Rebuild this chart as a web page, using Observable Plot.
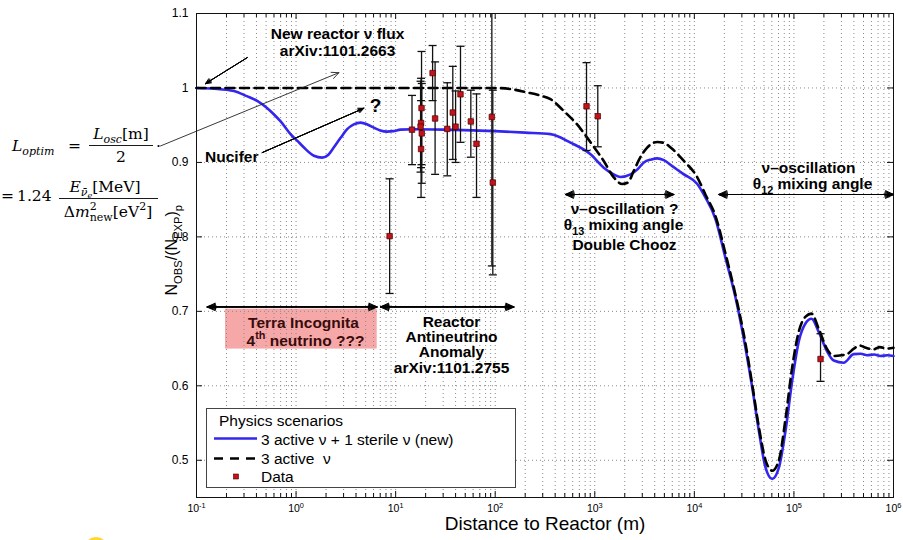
<!DOCTYPE html>
<html><head><meta charset="utf-8">
<script src="https://cdn.jsdelivr.net/npm/d3@7"></script>
<script src="https://cdn.jsdelivr.net/npm/@observablehq/plot@0.6"></script>
<style>
html,body{margin:0;padding:0;background:#fff;}
#chart{position:relative;width:903px;height:540px;overflow:hidden;}
#chart svg{display:block;}
</style></head><body><div id="chart"></div>
<script>
// ---------------- data ----------------
const sterileDist = [0.1,0.15,0.237,0.32,0.407,0.5,0.597,0.7,0.879,1.03,1.2,1.51,1.83,2.1,2.39,2.8,3.26,3.8,4.44,5.2,6.04,7.0,8.22,9.5,11.2,15,30,60,100,200,359,570,906,1230,1550,1810,2290,2700,3110,3700,4240,4940,6000,7850,10700,12900,16300,20500,25900,32600,38100,44400,51900,60500,70600,82400,96100,112000,131000,150000,178000,214000,251000,316000,398000,470000,543000,640000,740000,870000,1000000];
const sterileRatio = [1.0,0.999,0.996,0.989,0.9826,0.974,0.9647,0.955,0.938,0.929,0.92,0.909,0.9065,0.91,0.92,0.933,0.9446,0.951,0.9534,0.951,0.9467,0.943,0.9414,0.942,0.944,0.9445,0.944,0.943,0.942,0.94,0.938,0.9266,0.911,0.893,0.884,0.8805,0.884,0.891,0.9,0.904,0.9055,0.903,0.895,0.884,0.871,0.853,0.824,0.772,0.7185,0.651,0.598,0.54,0.49,0.4748,0.49,0.54,0.607,0.66,0.684,0.69,0.672,0.647,0.634,0.631,0.6425,0.643,0.641,0.642,0.64,0.641,0.64];
const activeDist = [0.1,1,10,100,150,209,280,359,489,665,906,1230,1550,1885,2150,2470,2900,3360,4240,5000,5770,7850,10700,12900,16300,20500,25900,32600,38100,44400,51900,60500,70600,82400,96100,112000,131000,150000,178000,214000,251000,300000,342000,400000,460000,530000,630000,730000,850000,1000000];
const activeRatio = [1,1,1,1,0.998,0.994,0.99,0.985,0.969,0.951,0.927,0.902,0.88,0.871,0.873,0.889,0.908,0.92,0.9275,0.926,0.92,0.902,0.88,0.857,0.828,0.778,0.722,0.657,0.602,0.545,0.5,0.486,0.5,0.556,0.625,0.673,0.693,0.697,0.676,0.65,0.64,0.641,0.6425,0.65,0.654,0.651,0.649,0.652,0.65,0.651];
const dataDist  = [8.7,14.6,18.2,18.0,17.8,18.3,18.0,23.5,24.9,33,37.5,40,44.8,56.9,64.9,92.5,94.6,826,1072,185000];
const dataRatio = [0.801,0.944,0.973,0.953,0.948,0.939,0.918,1.020,0.959,0.945,0.967,0.948,0.9915,0.955,0.925,0.961,0.873,0.9754,0.962,0.636];
const dataLow   = [0.724,0.897,0.897,0.893,0.887,0.872,0.853,0.983,0.884,0.882,0.904,0.900,0.927,0.907,0.853,0.761,0.749,0.916,0.921,0.606];
const dataHigh  = [0.878,0.990,1.049,1.013,1.009,1.006,0.983,1.057,1.035,1.007,1.029,0.996,1.056,0.997,0.992,1.161,0.997,1.034,1.003,0.670];
const xTickValues = [0.1,1,10,100,1000,10000,100000,1000000];
const xTickLabels = ["10^{-1}","10^{0}","10^{1}","10^{2}","10^{3}","10^{4}","10^{5}","10^{6}"];
const yTickValues = [0.5,0.6,0.7,0.8,0.9,1,1.1];
const yTickLabels = ["0.5","0.6","0.7","0.8","0.9","1","1.1"];
const xTitle = "Distance to Reactor (m)";
const yTitle = "N_{OBS}/(N_{EXP})_{p}";
const legendTitle = "Physics scenarios";
const legendLabels = ["3 active ν + 1 sterile ν (new)", "3 active\u00a0 ν", "Data"];

// ---------------- tables ----------------
const sterile = sterileDist.map((x, i) => ({x, y: sterileRatio[i]}));
const active = activeDist.map((x, i) => ({x, y: activeRatio[i]}));
const points = dataDist.map((x, i) => ({x, y: dataRatio[i], lo: dataLow[i], hi: dataHigh[i]}));
const minorTicks = xTickValues.slice(0, -1).flatMap(d => [2,3,4,5,6,7,8,9].map(k => k * d));
const gridXs = minorTicks.concat(xTickValues.slice(1, -1));
const gridYs = yTickValues.slice(0, -1);

const W = 903, H = 540, mL = 196, mR = 10, mT = 13, mB = 43;
const innerW = W - mL - mR, innerH = H - mT - mB;
const BLUE = "#3326ee";
const DASH = "9,5.5";
const capSymbol = {draw(ctx, size) { const r = Math.sqrt(size / Math.PI); ctx.moveTo(-r, 0); ctx.lineTo(r, 0); }};

// double-headed arrows: [xStart, xEnd, y]
const spans = [[0.128, 6.5, 0.706], [7.05, 154, 0.706], [508, 6220, 0.857], [17600, 1000000, 0.857]];
const halfArrows = spans.flatMap(([a, b, y]) => { const m = Math.sqrt(a * b); return [{x1: m, x2: a, y1: y, y2: y}, {x1: m, x2: b, y1: y, y2: y}]; });
const filledArrow = (data, o = {}) => [50, 36, 22, 10].map(a => Plot.arrow(data, {x1: "x1", y1: "y1", x2: "x2", y2: "y2", headAngle: a, headLength: o.len || 11, stroke: "black", strokeWidth: o.w || 1.1}));
const pointerArrows = [{x1: 0.323, y1: 1.0407, x2: 0.123, y2: 1.0058}, {x1: 0.457, y1: 0.9132, x2: 4.79, y2: 0.9727}];
const formulaArrow = [{x1: 0.0435, y1: 0.9221, x2: 2.69, y2: 1.0205}];

const bold = {fontWeight: "bold", fontSize: 15.5, fill: "black"};
const lbl = (x, y, t, o = {}) => Plot.text([t], {x: () => x, y: () => y, text: d => d, ...bold, ...o});

const chart = Plot.plot({
  width: W, height: H, marginLeft: mL, marginRight: mR, marginTop: mT, marginBottom: mB,
  style: {fontFamily: "'Liberation Sans', Arial, Helvetica, sans-serif", background: "white", overflow: "visible"},
  x: {type: "log", domain: [0.1, 1e6]},
  y: {domain: [0.45, 1.1]},
  marks: [
    Plot.rect([0], {x1: () => 0.1955, x2: () => 6.53, y1: () => 0.6493, y2: () => 0.703, fill: "#f6a8a8"}),
    Plot.ruleX(gridXs, {stroke: "#8a8a8a", strokeWidth: 1, strokeDasharray: "1,3"}),
    Plot.ruleY(gridYs, {stroke: "#8a8a8a", strokeWidth: 1, strokeDasharray: "1,3"}),
    Plot.frame({stroke: "#111", strokeWidth: 1}),
    Plot.tickX(xTickValues, {x: d => d, insetTop: innerH - 6, stroke: "#111"}),
    Plot.tickX(minorTicks, {x: d => d, insetTop: innerH - 4, stroke: "#111"}),
    Plot.tickX(xTickValues, {x: d => d, insetBottom: innerH - 6, stroke: "#111"}),
    Plot.tickX(minorTicks, {x: d => d, insetBottom: innerH - 4, stroke: "#111"}),
    Plot.tickY(yTickValues, {y: d => d, insetRight: innerW - 6, stroke: "#111"}),
    Plot.tickY(yTickValues, {y: d => d, insetLeft: innerW - 6, stroke: "#111"}),
    Plot.line(sterile, {x: "x", y: "y", stroke: BLUE, strokeWidth: 2.6, curve: "monotone-x"}),
    Plot.line(active, {x: "x", y: "y", stroke: "black", strokeWidth: 2.6, strokeDasharray: DASH, curve: "monotone-x"}),
    Plot.ruleX(points, {x: "x", y1: "lo", y2: "hi", stroke: "#111", strokeWidth: 1.3, clip: true}),
    Plot.dot(points.filter(d => d.hi <= 1.1), {x: "x", y: "hi", symbol: capSymbol, r: 4, fill: "none", stroke: "#111", strokeWidth: 1.3}),
    Plot.dot(points, {x: "x", y: "lo", symbol: capSymbol, r: 4, fill: "none", stroke: "#111", strokeWidth: 1.3}),
    Plot.dot(points, {x: "x", y: "y", symbol: "square", r: 3.1, fill: "#c4121a", stroke: "#4a0000", strokeWidth: 0.7}),
    ...filledArrow(halfArrows, {len: 12, w: 1.1}),
    ...filledArrow(pointerArrows, {len: 10, w: 0.9}),
    Plot.arrow(formulaArrow, {x1: "x1", y1: "y1", x2: "x2", y2: "y2", headAngle: 50, headLength: 13, stroke: "#222", strokeWidth: 0.9}),
    lbl(2.607, 1.0721, "New reactor ν flux"),
    lbl(2.607, 1.0497, "arXiv:1101.2663"),
    lbl(6.28, 0.9758, "?", {fontSize: 19}),
    lbl(0.226, 0.9074, "Nucifer"),
    lbl(1.187, 0.6846, "Terra Incognita", {fill: "#3a0b0b"}),
    lbl(1.244, 0.6604, "4^{th} neutrino ???", {fill: "#3a0b0b"}),
    lbl(36.4, 0.6860, "Reactor"),
    lbl(36.4, 0.6655, "Antineutrino"),
    lbl(36.4, 0.6450, "Anomaly"),
    lbl(36.4, 0.6245, "arXiv:1101.2755"),
    lbl(1989, 0.8375, "ν–oscillation ?"),
    lbl(1943, 0.8160, "θ_{13} mixing angle"),
    lbl(1989, 0.7895, "Double Chooz"),
    lbl(140000, 0.8925, "ν–oscillation"),
    lbl(153800, 0.8705, "θ_{12} mixing angle"),
    Plot.axisX({ticks: xTickValues, tickFormat: d => xTickLabels[xTickValues.indexOf(d)], tickSize: 0, tickPadding: 7, fontSize: 10.5, label: null}),
    Plot.axisY({ticks: yTickValues, tickFormat: d => yTickLabels[yTickValues.indexOf(d)], tickSize: 0, tickPadding: 8, fontSize: 12, label: null}),
    Plot.text([xTitle], {frameAnchor: "bottom", dy: 32, text: d => d, fontSize: 19}),
    Plot.text([yTitle], {frameAnchor: "left", rotate: -90, dx: -25, dy: 40, text: d => d, fontSize: 16})
  ]
});
document.getElementById("chart").appendChild(chart);

// ---------------- rich text (sub/superscripts) ----------------
const NS = "http://www.w3.org/2000/svg";
function richify(textEl, scale = 0.7) {
  const s = textEl.textContent;
  if (textEl.querySelector("tspan") || !/[_^]\{/.test(s)) return;
  const base = parseFloat(getComputedStyle(textEl).fontSize) || 12;
  while (textEl.firstChild) textEl.removeChild(textEl.firstChild);
  const re = /([_^])\{([^}]*)\}/g;
  let last = 0, cur = 0, m;
  const push = (str, mode) => {
    if (!str) return;
    const t = document.createElementNS(NS, "tspan");
    const target = mode === "_" ? base * 0.32 : mode === "^" ? -base * 0.42 : 0;
    if (target !== cur) t.setAttribute("dy", (target - cur).toFixed(2));
    cur = target;
    if (mode) t.setAttribute("font-size", (base * scale).toFixed(2));
    t.textContent = str;
    textEl.appendChild(t);
  };
  while ((m = re.exec(s))) { push(s.slice(last, m.index), null); push(m[2], m[1]); last = re.lastIndex; }
  push(s.slice(last), null);
}
chart.querySelectorAll("text").forEach(t => richify(t));

// ---------------- legend & formula (annotation layer) ----------------
const svg = d3.select(chart);
const lg = svg.append("g").attr("font-family", "'Liberation Sans', Arial, sans-serif").attr("font-size", 15.5).attr("text-anchor", "start");
lg.append("rect").attr("x", 206.5).attr("y", 408.5).attr("width", 309).attr("height", 79).attr("fill", "white").attr("stroke", "#444");
lg.append("text").attr("x", 219).attr("y", 426).attr("text-anchor", "start").text(legendTitle);
lg.append("line").attr("x1", 214).attr("x2", 257).attr("y1", 438.5).attr("y2", 438.5).attr("stroke", BLUE).attr("stroke-width", 2.6);
lg.append("text").attr("x", 261).attr("y", 445).attr("text-anchor", "start").text(legendLabels[0]);
lg.append("line").attr("x1", 214).attr("x2", 257).attr("y1", 458.5).attr("y2", 458.5).attr("stroke", "black").attr("stroke-width", 2.6).attr("stroke-dasharray", "9,7");
lg.append("text").attr("x", 261).attr("y", 464).attr("text-anchor", "start").text(legendLabels[1]);
lg.append("rect").attr("x", 233.5).attr("y", 474).attr("width", 5).attr("height", 5).attr("fill", "#c4121a").attr("stroke", "#4a0000").attr("stroke-width", 0.6);
lg.append("text").attr("x", 261).attr("y", 482).attr("text-anchor", "start").text(legendLabels[2]);

const fm = svg.append("g").attr("font-family", "'DejaVu Serif', 'Liberation Serif', serif").attr("font-size", 15.5).attr("fill", "black");
function mtext(x, y, parts, anchor = "start") {
  const t = fm.append("text").attr("x", x).attr("y", y).attr("text-anchor", anchor);
  parts.forEach(p => {
    const s = t.append("tspan").text(p.t);
    if (p.i) s.attr("font-style", "italic");
    if (p.s) s.attr("font-size", p.s);
    if (p.dy) s.attr("dy", p.dy);
    if (p.dx) s.attr("dx", p.dx);
  });
}
mtext(12, 151, [{t: "L", i: 1}, {t: "optim", i: 1, s: 11, dy: 4}]);
mtext(68, 151, [{t: "="}]);
mtext(121, 139, [{t: "L", i: 1}, {t: "osc", i: 1, s: 11, dy: 4}, {t: "[m]", dy: -4}], "middle");
fm.append("line").attr("x1", 89).attr("x2", 153).attr("y1", 145.5).attr("y2", 145.5).attr("stroke", "black").attr("stroke-width", 0.9);
mtext(121, 162, [{t: "2"}], "middle");
mtext(156, 147, [{t: "."}]);
mtext(1, 201, [{t: "=\u20091.24"}]);
mtext(105, 192, [{t: "E", i: 1}, {t: "ν\u0304", i: 1, s: 11, dy: 4}, {t: "e", i: 1, s: 8, dy: 2}, {t: "[MeV]", dy: -6}], "middle");
fm.append("line").attr("x1", 59).attr("x2", 158).attr("y1", 198.5).attr("y2", 198.5).attr("stroke", "black").attr("stroke-width", 0.9);
mtext(108, 217, [{t: "Δ"}, {t: "m", i: 1}, {t: "2", s: 11, dy: -7}, {t: "new", s: 11, dx: -7, dy: 11}, {t: "[eV", dy: -4}, {t: "2", s: 11, dy: -7}, {t: "]", dy: 7}], "middle");

// small clipped yellow icon at the lower-left corner
svg.append("circle").attr("cx", 96).attr("cy", 549).attr("r", 12).attr("fill", "#ffd21c").attr("opacity", 0.9);
</script>
</body></html>
